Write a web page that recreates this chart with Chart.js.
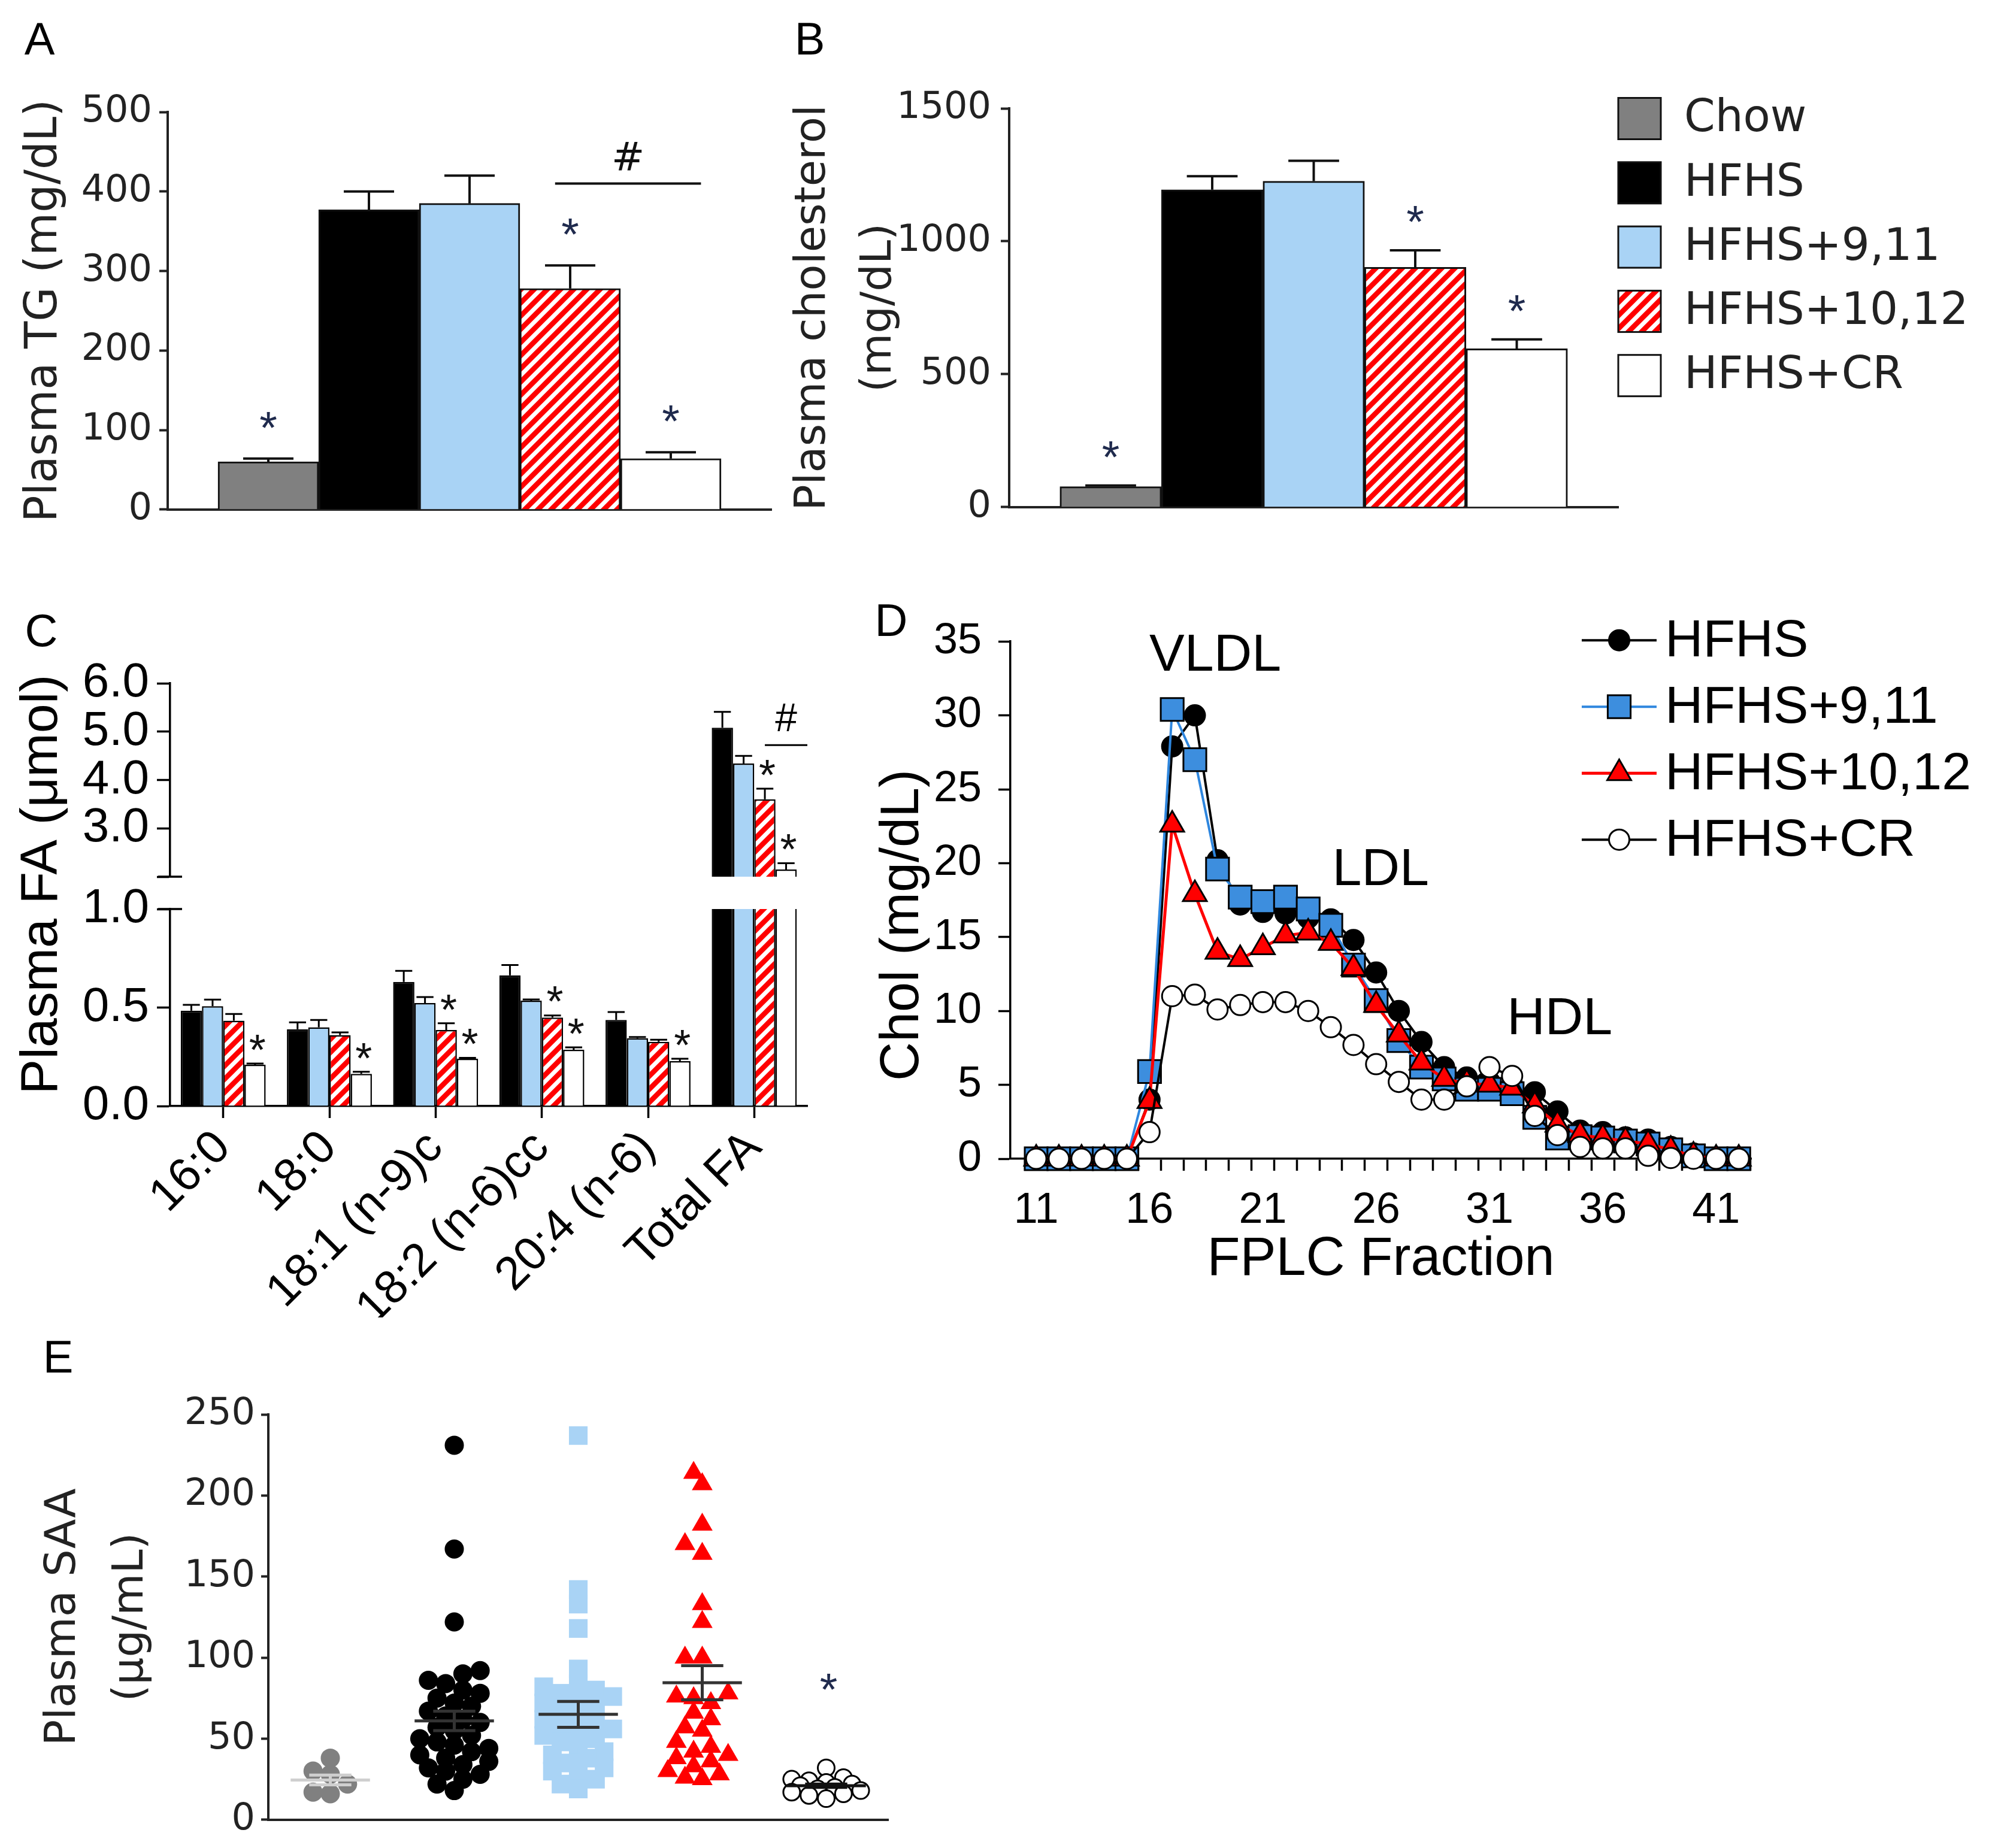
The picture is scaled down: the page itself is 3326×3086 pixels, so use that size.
<!DOCTYPE html>
<html>
<head>
<meta charset="utf-8">
<title>Plasma lipids, fatty acids, FPLC and SAA</title>
<script src="https://cdn.jsdelivr.net/npm/chart.js@4.4.1/dist/chart.umd.min.js"></script>
<style>
  html, body { margin: 0; padding: 0; background: #fff; }
  #figure { position: relative; width: 3326px; height: 3086px; background: #fff; }
  #figure canvas { position: absolute; }
</style>
</head>
<body>
<div id="figure">
  <canvas id="chartA" width="1310" height="900" style="left:0;top:0;width:1310px;height:900px"></canvas>
  <canvas id="chartB" width="2066" height="900" style="left:1260px;top:0;width:2066px;height:900px"></canvas>
  <canvas id="chartCLow" width="1400" height="1200" style="left:0;top:1000px;width:1400px;height:1200px"></canvas>
  <canvas id="chartCUp" width="1400" height="540" style="left:0;top:1000px;width:1400px;height:540px;z-index:2"></canvas>
  <canvas id="chartD" width="1926" height="1200" style="left:1400px;top:1000px;width:1926px;height:1200px"></canvas>
  <canvas id="chartE" width="1520" height="866" style="left:0;top:2220px;width:1520px;height:866px"></canvas>
</div>
<script>
'use strict';

// ********** DATA **********

const groups = ['Chow', 'HFHS', 'HFHS+9,11', 'HFHS+10,12', 'HFHS+CR'];

// A: plasma TG (mg/dL), mean and SEM
const tgMean = [60, 377, 385, 278, 64];
const tgSem = [4, 23, 35, 29, 8];
const tgTicks = [0, 100, 200, 300, 400, 500];

// B: plasma cholesterol (mg/dL)
const cholMean = [77, 1194, 1226, 902, 596];
const cholSem = [4, 51, 77, 64, 35];
const cholTicks = [0, 500, 1000, 1500];

// C: plasma fatty acids (umol), no chow group
const faLabels = ['16:0', '18:0', '18:1 (n-9)c', '18:2 (n-6)cc', '20:4 (n-6)', 'Total FA'];
const faHFHS = [0.484, 0.39, 0.63, 0.663, 0.437, 5.08];
const faHFHSSem = [0.03, 0.035, 0.056, 0.053, 0.04, 0.33];
const fa911 = [0.507, 0.40, 0.523, 0.535, 0.344, 4.34];
const fa911Sem = [0.033, 0.037, 0.03, 0.006, 0.006, 0.16];
const fa1012 = [0.433, 0.36, 0.386, 0.449, 0.326, 3.6];
const fa1012Sem = [0.034, 0.014, 0.034, 0.011, 0.011, 0.22];
const faCR = [0.21, 0.163, 0.24, 0.286, 0.228, 2.15];
const faCRSem = [0.006, 0.011, 0.005, 0.012, 0.012, 0.13];
const faLowTicks = [0, 0.5, 1.0];
const faHighTicks = [2, 3, 4, 5, 6];   // 2 is the break, no label

// D: FPLC cholesterol profile (mg/dL)
const fractions = [11, 12, 13, 14, 15, 16, 17, 18, 19, 20, 21, 22, 23, 24, 25, 26,
  27, 28, 29, 30, 31, 32, 33, 34, 35, 36, 37, 38, 39, 40, 41, 42];
const dHFHS = [0, 0, 0, 0, 0, 4.0, 27.9, 30.0, 20.2, 17.2, 16.7, 16.6, 16.3, 16.2, 14.8, 12.6,
  10.0, 7.9, 6.2, 5.5, 5.2, 5.0, 4.5, 3.2, 1.9, 1.8, 1.45, 1.3, 0.8, 0.35, 0, 0];
const d911 = [0, 0, 0, 0, 0, 5.9, 30.4, 27.0, 19.6, 17.7, 17.4, 17.7, 16.9, 15.8, 13.1, 10.7,
  8.0, 6.2, 5.4, 4.7, 4.7, 4.4, 2.8, 1.4, 1.5, 1.4, 1.2, 1.0, 0.6, 0.2, 0, 0];
const d1012 = [0, 0, 0, 0, 0, 3.9, 22.6, 17.9, 14.0, 13.5, 14.3, 15.1, 15.3, 14.6, 12.9, 10.4,
  8.4, 6.5, 5.4, 5.1, 5.0, 4.8, 3.6, 2.3, 1.6, 1.4, 1.2, 1.0, 0.6, 0.2, 0, 0];
const dCR = [0, 0, 0, 0, 0, 1.8, 11.0, 11.1, 10.1, 10.4, 10.6, 10.6, 10.0, 8.9, 7.7, 6.4,
  5.2, 4.0, 4.0, 4.9, 6.2, 5.6, 2.9, 1.6, 0.8, 0.7, 0.7, 0.2, 0.05, 0, 0, 0];
const fracLabels = [11, 16, 21, 26, 31, 36, 41];
const dTicksY = [0, 5, 10, 15, 20, 25, 30, 35];

// E: plasma SAA (ug/mL), individual mice
const saaChow = [38, 30, 28, 22, 17, 16];
const saaHFHS = [231, 167, 122, 92, 90, 86, 84, 80, 78, 75, 72, 70, 67, 64, 62, 60, 57,
  55, 52, 50, 48, 46, 44, 42, 40, 38, 36, 34, 32, 30, 28, 25, 22, 18];
const saa911 = [237, 142, 133, 118, 93, 84, 82, 80, 78, 76, 74, 72, 70, 68, 65, 62, 60,
  58, 56, 54, 52, 50, 48, 45, 42, 40, 38, 35, 32, 30, 28, 25, 22, 19];
const saa1012 = [214, 207, 182, 170, 164, 133, 122, 100, 100, 78, 76, 75, 72, 66, 62, 57,
  55, 48, 45, 42, 40, 38, 36, 33, 30, 28, 26, 25];
const saaCR = [32, 26, 25, 24, 23, 22, 21, 20, 19, 18, 17, 16, 15, 13];
const saaMean = [24.5, 61, 65, 84.5, 21];
const saaSem = [3, 6, 8, 10.5, 1];
const saaTicks = [0, 50, 100, 150, 200, 250];


// ********** STYLE **********

const WIDE = 'DejaVu Sans';
const ARIAL = 'Liberation Sans';
const INK = '#222';
const STAR = '#1f2a4d';
const LIGHT_BLUE = '#a9d3f5';
const hatch = makeHatch();
const fills = ['#808080', '#000000', LIGHT_BLUE, hatch, '#ffffff'];
const common = {responsive: false, animation: false, devicePixelRatio: 1, events: []};


// ********** HELPER FUNCTIONS **********

// red bars with white diagonal stripes
function makeHatch() {
  const s = 22;
  const c = document.createElement('canvas');
  c.width = s;
  c.height = s;
  const g = c.getContext('2d');
  g.fillStyle = '#ff0000';
  g.fillRect(0, 0, s, s);
  g.strokeStyle = '#ffffff';
  g.lineWidth = 7;
  g.beginPath();
  g.moveTo(0, s); g.lineTo(s, 0);
  g.moveTo(-s / 2, s / 2); g.lineTo(s / 2, -s / 2);
  g.moveTo(s / 2, s * 1.5); g.lineTo(s * 1.5, s / 2);
  g.stroke();
  return g.createPattern(c, 'repeat');
}

function valueOf(raw) {
  return (raw !== null && typeof raw === 'object') ? raw.y : raw;
}

function fixedTicks(list) {
  return (axis) => { axis.ticks = list.map(v => ({value: v})); };
}
function fixedWidth(w) {
  return (axis) => { axis.width = w; };
}
function fixedHeight(h) {
  return (axis) => { axis.height = h; };
}

function drawStar(ctx, x, y, font, color) {
  ctx.font = `${font.size}px "${font.family}"`;
  ctx.fillStyle = color;
  ctx.textAlign = 'center';
  ctx.textBaseline = 'alphabetic';
  ctx.fillText('*', x, y + font.size * 0.58);
}

// spread close points sideways like a scatter dot plot (overlap allowed once crowded)
function swarm(values, center, marker, maxOff) {
  const pxX = 207, pxY = 2.75;   // approx px per unit on panel E
  const placed = [];
  const pts = values.map(v => ({x: center, y: v}));
  const order = values.map((v, i) => i).sort((a, b) => values[a] - values[b]);
  order.forEach(i => {
    const py = values[i] * pxY;
    let best = 0, bestGap = -1;
    for (let k = 0; k < 40; k++) {
      const off = (k % 2 ? -1 : 1) * Math.ceil(k / 2) * marker * 0.45;
      if (Math.abs(off) > maxOff) break;
      const gap = placed.length ? Math.min(...placed.map(p => Math.hypot(p.x - off, p.y - py))) : Infinity;
      if (gap >= marker * 0.7) { best = off; break; }
      if (gap > bestGap) { bestGap = gap; best = off; }
    }
    placed.push({x: best, y: py});
    pts[i].x = center + best / pxX;
  });
  return pts;
}

function yAxis(ticks, opts) {
  return {
    min: ticks[0],
    max: ticks[ticks.length - 1],
    afterBuildTicks: fixedTicks(ticks),
    afterFit: fixedWidth(opts.width),
    ticks: {font: {family: opts.family, size: opts.size}, color: opts.color, autoSkip: false,
      padding: opts.padding, callback: opts.callback},
    grid: {display: true, drawOnChartArea: false, drawTicks: true, tickLength: opts.tick,
      tickWidth: opts.line, tickColor: opts.color},
    border: {display: true, color: opts.color, width: opts.line},
    title: opts.title || {display: false}
  };
}


// ********** PLUGINS **********

function textLayer(items) {
  return {
    id: 'textLayer',
    afterDraw(chart) {
      const ctx = chart.ctx;
      items.forEach(t => {
        ctx.save();
        ctx.translate(t.x, t.y);
        ctx.rotate((t.rotation || 0) * Math.PI / 180);
        ctx.font = t.font;
        ctx.fillStyle = t.color || '#000';
        ctx.textAlign = 'center';
        ctx.textBaseline = 'middle';
        ctx.fillText(t.text, 0, 0);
        ctx.restore();
      });
    }
  };
}

function errorBars(style) {
  return {
    id: 'errorBars',
    afterDatasetsDraw(chart) {
      const {ctx, chartArea} = chart;
      ctx.save();
      ctx.beginPath();
      ctx.rect(chartArea.left, chartArea.top - 3, chartArea.right - chartArea.left,
        chartArea.bottom - chartArea.top + 3);
      ctx.clip();
      ctx.strokeStyle = style.color;
      ctx.lineWidth = style.width;
      chart.data.datasets.forEach((ds, i) => {
        if (!ds.errors) return;
        const meta = chart.getDatasetMeta(i);
        const yScale = chart.scales[meta.yAxisID];
        meta.data.forEach((bar, j) => {
          const v = valueOf(ds.data[j]);
          const e = ds.errors[j];
          if (v === null || v === undefined || e === null || e === undefined) return;
          const yTop = yScale.getPixelForValue(v + e);
          const half = bar.width * style.cap / 2;
          ctx.beginPath();
          ctx.moveTo(bar.x, bar.y);
          ctx.lineTo(bar.x, yTop);
          ctx.moveTo(bar.x - half, yTop);
          ctx.lineTo(bar.x + half, yTop);
          ctx.stroke();
        });
      });
      ctx.restore();
    }
  };
}

// significance stars over bars and a # bar between two bars
function barMarks(cfg) {
  return {
    id: 'barMarks',
    afterDatasetsDraw(chart) {
      const {ctx, chartArea} = chart;
      ctx.save();
      (cfg.stars || []).forEach(s => {
        const meta = chart.getDatasetMeta(s.ds);
        const bar = meta.data[s.idx];
        const ds = chart.data.datasets[s.ds];
        const yScale = chart.scales[meta.yAxisID];
        const y = yScale.getPixelForValue(valueOf(ds.data[s.idx]) + ds.errors[s.idx]) - cfg.lift;
        if (y < chartArea.top - 30 || y > chartArea.bottom) return;
        drawStar(ctx, bar.x + (cfg.dx || 0), y, cfg.font, cfg.color);
      });
      if (cfg.sig) {
        const s = cfg.sig;
        const a = chart.getDatasetMeta(s.from.ds).data[s.from.idx];
        const b = chart.getDatasetMeta(s.to.ds).data[s.to.idx];
        const x1 = a.x + s.from.dx * a.width;
        const x2 = b.x + s.to.dx * b.width;
        const y = chart.scales.y.getPixelForValue(s.y);
        ctx.strokeStyle = s.color;
        ctx.lineWidth = s.width;
        ctx.beginPath();
        ctx.moveTo(x1, y);
        ctx.lineTo(x2, y);
        ctx.stroke();
        ctx.font = `${s.size}px "${s.family}"`;
        ctx.fillStyle = s.color;
        ctx.textAlign = 'center';
        ctx.textBaseline = 'middle';
        ctx.fillText('#', (x1 + x2) / 2, y - s.lift);
      }
      ctx.restore();
    }
  };
}

// short cross tick where the broken y axis stops ('top' or 'bottom' of the plot)
function breakTick(edge, half, width) {
  return {
    id: 'breakTick',
    afterDraw(chart) {
      const {ctx, chartArea} = chart;
      const y = edge === 'top' ? chartArea.top : chartArea.bottom;
      ctx.save();
      ctx.strokeStyle = '#000';
      ctx.lineWidth = width;
      ctx.beginPath();
      ctx.moveTo(chartArea.left - half, y);
      ctx.lineTo(chartArea.left + half, y);
      ctx.stroke();
      ctx.restore();
    }
  };
}

// filled boxes with group names to the right of the plot
function boxLegend(cfg) {
  return {
    id: 'boxLegend',
    afterDraw(chart) {
      const {ctx, chartArea} = chart;
      ctx.save();
      ctx.font = `${cfg.size}px "${cfg.family}"`;
      ctx.textBaseline = 'middle';
      ctx.textAlign = 'left';
      cfg.labels.forEach((label, i) => {
        const y = chartArea.top + cfg.top + i * cfg.spacing;
        const x = chartArea.right + cfg.left;
        ctx.fillStyle = cfg.fills[i];
        ctx.fillRect(x, y - cfg.boxH / 2, cfg.boxW, cfg.boxH);
        ctx.strokeStyle = '#111';
        ctx.lineWidth = 3;
        ctx.strokeRect(x, y - cfg.boxH / 2, cfg.boxW, cfg.boxH);
        ctx.fillStyle = cfg.color;
        ctx.fillText(label, x + cfg.boxW + cfg.gap, y + 2);
      });
      ctx.restore();
    }
  };
}

// line + marker legend for the FPLC panel
function lineLegend(cfg) {
  return {
    id: 'lineLegend',
    afterDraw(chart) {
      const {ctx, chartArea} = chart;
      ctx.save();
      chart.data.datasets.forEach((ds, i) => {
        const y = chartArea.top + cfg.top + i * cfg.spacing;
        const x0 = chartArea.right + cfg.left;
        ctx.strokeStyle = ds.borderColor;
        ctx.lineWidth = ds.borderWidth;
        ctx.beginPath();
        ctx.moveTo(x0, y);
        ctx.lineTo(x0 + cfg.lineLen, y);
        ctx.stroke();
        ctx.fillStyle = ds.pointBackgroundColor;
        ctx.strokeStyle = ds.pointBorderColor;
        ctx.lineWidth = ds.pointBorderWidth;
        Chart.helpers.drawPoint(ctx, {pointStyle: ds.pointStyle, radius: ds.pointRadius,
          rotation: 0, borderWidth: ds.pointBorderWidth}, x0 + cfg.lineLen / 2, y);
        ctx.font = `${cfg.size}px "${cfg.family}"`;
        ctx.fillStyle = '#000';
        ctx.textAlign = 'left';
        ctx.textBaseline = 'middle';
        ctx.fillText(ds.label, x0 + cfg.lineLen + cfg.gap, y + 3);
      });
      ctx.restore();
    }
  };
}

// text placed at data coordinates
function dataLabels(items, font) {
  return {
    id: 'dataLabels',
    afterDraw(chart) {
      const ctx = chart.ctx;
      ctx.save();
      ctx.font = font;
      ctx.fillStyle = '#000';
      ctx.textAlign = 'center';
      ctx.textBaseline = 'middle';
      items.forEach(t => {
        ctx.fillText(t.text, chart.scales.x.getPixelForValue(t.x), chart.scales.y.getPixelForValue(t.y));
      });
      ctx.restore();
    }
  };
}

// mean +/- SEM lines over the scatter columns
function meanSem(cfg) {
  return {
    id: 'meanSem',
    afterDatasetsDraw(chart) {
      const ctx = chart.ctx;
      const xs = chart.scales.x, ys = chart.scales.y;
      ctx.save();
      ctx.lineWidth = cfg.width;
      cfg.means.forEach((m, i) => {
        const g = i + 1;
        const cx = xs.getPixelForValue(g);
        const mw = xs.getPixelForValue(g + cfg.meanHalf) - cx;
        const cw = xs.getPixelForValue(g + cfg.capHalf) - cx;
        const ym = ys.getPixelForValue(m);
        const yt = ys.getPixelForValue(m + cfg.sems[i]);
        const yb = ys.getPixelForValue(m - cfg.sems[i]);
        ctx.strokeStyle = cfg.colors[i];
        ctx.beginPath();
        ctx.moveTo(cx - mw, ym); ctx.lineTo(cx + mw, ym);
        ctx.moveTo(cx, yt); ctx.lineTo(cx, yb);
        ctx.moveTo(cx - cw, yt); ctx.lineTo(cx + cw, yt);
        ctx.moveTo(cx - cw, yb); ctx.lineTo(cx + cw, yb);
        ctx.stroke();
      });
      cfg.stars.forEach(s => {
        drawStar(ctx, xs.getPixelForValue(s.x), ys.getPixelForValue(s.y), cfg.starFont, STAR);
      });
      ctx.restore();
    }
  };
}


// ********** PANELS **********

// one empty slot each side of the five bars, so the axis runs past them
const barSlots = [''].concat(groups, ['']);

function groupBars(label, means, sems) {
  return [{
    label: label,
    data: [null].concat(means, [null]),
    errors: [null].concat(sems, [null]),
    backgroundColor: ['rgba(0,0,0,0)'].concat(fills, ['rgba(0,0,0,0)']),
    borderColor: '#111',
    borderWidth: 3,
    barPercentage: 1,
    categoryPercentage: 1
  }];
}

function slotX(height) {
  return {
    type: 'category',
    offset: false,
    afterFit: fixedHeight(height),
    ticks: {display: false},
    grid: {display: false, offset: false},
    border: {display: true, color: INK, width: 4}
  };
}

function panelA() {
  new Chart(document.getElementById('chartA'), {
    type: 'bar',
    data: {labels: barSlots, datasets: groupBars('Plasma TG', tgMean, tgSem)},
    options: {
      ...common,
      layout: {padding: {left: 0, top: 187, right: 22, bottom: 0}},
      scales: {
        x: slotX(45),
        y: yAxis(tgTicks, {width: 280, family: WIDE, size: 62, color: INK, padding: 12, tick: 14, line: 4,
          title: {display: true, text: 'Plasma TG (mg/dL)', color: INK,
            font: {family: WIDE, size: 74, lineHeight: 1.2}, padding: {top: 30, bottom: 0}}})
      },
      plugins: {legend: {display: false}, tooltip: {enabled: false}}
    },
    plugins: [
      errorBars({color: '#111', width: 4, cap: 0.5}),
      barMarks({stars: [{ds: 0, idx: 1}, {ds: 0, idx: 4}, {ds: 0, idx: 5}], lift: 70,
        font: {family: ARIAL, size: 76}, color: STAR,
        sig: {y: 410, from: {ds: 0, idx: 4, dx: -0.15}, to: {ds: 0, idx: 5, dx: 0.3},
          color: '#111', width: 4, size: 66, family: WIDE, lift: 40}}),
      textLayer([{text: 'A', x: 66, y: 70, font: `76px "${ARIAL}"`}])
    ]
  });
}

function panelB() {
  new Chart(document.getElementById('chartB'), {
    type: 'bar',
    data: {labels: barSlots, datasets: groupBars('Plasma cholesterol', cholMean, cholSem)},
    options: {
      ...common,
      layout: {padding: {left: 0, top: 181, right: 624, bottom: 0}},
      scales: {
        x: slotX(46),
        y: yAxis(cholTicks, {width: 425, family: WIDE, size: 62, color: INK, padding: 16, tick: 14, line: 4,
          title: {display: true, text: ['Plasma cholesterol', '(mg/dL)'], color: INK,
            font: {family: WIDE, size: 72, lineHeight: 1.53}, padding: {top: 43, bottom: 0}}})
      },
      plugins: {legend: {display: false}, tooltip: {enabled: false}}
    },
    plugins: [
      errorBars({color: '#111', width: 4, cap: 0.5}),
      barMarks({stars: [{ds: 0, idx: 1}, {ds: 0, idx: 4}, {ds: 0, idx: 5}], lift: 66,
        font: {family: ARIAL, size: 76}, color: STAR}),
      boxLegend({labels: groups, fills: fills, top: 17, spacing: 107.3, left: 0, boxW: 71, boxH: 69,
        gap: 39, family: WIDE, size: 74, color: INK}),
      textLayer([{text: 'B', x: 92, y: 70, font: `76px "${ARIAL}"`}])
    ]
  });
}

function faDatasets() {
  const series = [faHFHS, fa911, fa1012, faCR];
  const errs = [faHFHSSem, fa911Sem, fa1012Sem, faCRSem];
  const colors = ['#000000', LIGHT_BLUE, hatch, '#ffffff'];
  return ['HFHS', 'HFHS+9,11', 'HFHS+10,12', 'HFHS+CR'].map((g, i) => ({
    label: g,
    data: series[i],
    errors: errs[i],
    backgroundColor: colors[i],
    borderColor: '#000',
    borderWidth: 2.5
  }));
}

const faStars = [{ds: 3, idx: 0}, {ds: 3, idx: 1}, {ds: 2, idx: 2}, {ds: 3, idx: 2},
  {ds: 2, idx: 3}, {ds: 3, idx: 3}, {ds: 3, idx: 4}, {ds: 2, idx: 5}, {ds: 3, idx: 5}];

function panelC() {
  const axisOpts = {width: 284, family: ARIAL, size: 80, color: '#000', padding: 13, tick: 22, line: 3.5};
  const barOpts = {bar: {barPercentage: 1, categoryPercentage: 0.8}};

  // lower segment 0 - 1.0, carries the category labels
  new Chart(document.getElementById('chartCLow'), {
    type: 'bar',
    data: {labels: faLabels, datasets: faDatasets()},
    options: {
      ...common,
      layout: {padding: {left: 0, top: 518, right: 52, bottom: 0}},
      datasets: barOpts,
      scales: {
        x: {
          type: 'category',
          afterFit: fixedHeight(353),
          ticks: {font: {family: ARIAL, size: 78}, color: '#000', maxRotation: 45, minRotation: 45,
            autoSkip: false, padding: 4},
          grid: {display: true, drawOnChartArea: false, offset: false, tickLength: 20, tickWidth: 3.5,
            tickColor: '#000'},
          border: {display: true, color: '#000', width: 3.5}
        },
        y: yAxis(faLowTicks, {...axisOpts, callback: (v) => Number(v).toFixed(1)})
      },
      plugins: {legend: {display: false}, tooltip: {enabled: false}}
    },
    plugins: [
      errorBars({color: '#000', width: 3, cap: 0.8}),
      barMarks({stars: faStars, lift: 40, dx: 4, font: {family: ARIAL, size: 72}, color: '#111'}),
      breakTick('top', 20, 3.5),
      textLayer([
        {text: 'C', x: 69, y: 58, font: `76px "${ARIAL}"`},
        {text: 'Plasma FA (\u03bcmol)', x: 71, y: 477, rotation: -90, font: `88px "${ARIAL}"`}
      ])
    ]
  });

  // upper segment 2.0 - 6.0 above the axis break
  new Chart(document.getElementById('chartCUp'), {
    type: 'bar',
    data: {labels: faLabels, datasets: faDatasets()},
    options: {
      ...common,
      layout: {padding: {left: 0, top: 141, right: 52, bottom: 0}},
      datasets: barOpts,
      scales: {
        x: {type: 'category', afterFit: fixedHeight(76), ticks: {display: false},
          grid: {display: false}, border: {display: false}},
        y: yAxis(faHighTicks, {...axisOpts,
          callback: (v) => (v === faHighTicks[0] ? '' : Number(v).toFixed(1))})
      },
      plugins: {legend: {display: false}, tooltip: {enabled: false}}
    },
    plugins: [
      errorBars({color: '#000', width: 3, cap: 0.8}),
      barMarks({stars: faStars, lift: 40, dx: 4, font: {family: ARIAL, size: 72}, color: '#111',
        sig: {y: 4.72, from: {ds: 2, idx: 5, dx: 0}, to: {ds: 3, idx: 5, dx: 1.0},
          color: '#000', width: 3, size: 66, family: ARIAL, lift: 42}}),
      breakTick('bottom', 20, 3.5)
    ]
  });
}

function panelD() {
  const pts = (arr) => fractions.map((f, i) => ({x: f, y: arr[i]}));
  const halfTicks = fractions.map(f => f - 0.5).concat([fractions[fractions.length - 1] + 0.5]);
  const xTicks = halfTicks.concat(fracLabels).sort((a, b) => a - b);
  const line = {clip: false, tension: 0, pointBorderColor: '#000', pointBorderWidth: 3};

  new Chart(document.getElementById('chartD'), {
    type: 'line',
    data: {
      datasets: [
        {...line, label: 'HFHS', data: pts(dHFHS), borderColor: '#000', borderWidth: 4,
          pointStyle: 'circle', pointRadius: 17, pointBackgroundColor: '#000', order: 4},
        {...line, label: 'HFHS+9,11', data: pts(d911), borderColor: '#2e86de', borderWidth: 4,
          pointStyle: 'rect', pointRadius: 27, pointBackgroundColor: '#3d8ede', order: 3},
        {...line, label: 'HFHS+10,12', data: pts(d1012), borderColor: '#ff0000', borderWidth: 5,
          pointStyle: 'triangle', pointRadius: 23, pointBackgroundColor: '#ff0000', order: 2},
        {...line, label: 'HFHS+CR', data: pts(dCR), borderColor: '#000', borderWidth: 4,
          pointStyle: 'circle', pointRadius: 17, pointBackgroundColor: '#fff', order: 1}
      ]
    },
    options: {
      ...common,
      layout: {padding: {left: 0, top: 47, right: 402, bottom: 0}},
      scales: {
        x: {
          type: 'linear', min: 9.86, max: 42.55,
          afterBuildTicks: fixedTicks(xTicks),
          afterFit: fixedHeight(265),
          ticks: {font: {family: ARIAL, size: 72}, color: '#000', autoSkip: false, maxRotation: 0,
            padding: 24, callback: (v) => (fracLabels.includes(v) ? String(v) : '')},
          grid: {display: true, drawOnChartArea: false, tickLength: 20, tickWidth: 3.5,
            tickColor: (c) => (c.tick && fracLabels.includes(c.tick.value) ? 'rgba(0,0,0,0)' : '#000')},
          border: {display: true, color: '#000', width: 3.5},
          title: {display: true, text: 'FPLC Fraction', color: '#000',
            font: {family: ARIAL, size: 90, lineHeight: 1.2}, padding: {top: 0, bottom: 42}}
        },
        y: yAxis(dTicksY, {width: 287, family: ARIAL, size: 72, color: '#000', padding: 28, tick: 20, line: 3.5})
      },
      plugins: {legend: {display: false}, tooltip: {enabled: false}}
    },
    plugins: [
      lineLegend({top: -2, spacing: 111, left: -283, lineLen: 125, gap: 14, family: ARIAL, size: 88}),
      dataLabels([{text: 'VLDL', x: 18.9, y: 34.0}, {text: 'LDL', x: 26.2, y: 19.5},
        {text: 'HDL', x: 34.1, y: 9.4}], `88px "${ARIAL}"`),
      textLayer([
        {text: 'D', x: 88, y: 41, font: `76px "${ARIAL}"`},
        {text: 'Chol (mg/dL)', x: 108, y: 545, rotation: -90, font: `90px "${ARIAL}"`}
      ])
    ]
  });
}

function panelE() {
  const sets = [saaChow, saaHFHS, saa911, saa1012, saaCR];
  const looks = [
    {pointStyle: 'circle', pointRadius: 16, pointBackgroundColor: '#808080', pointBorderColor: '#808080', pointBorderWidth: 0},
    {pointStyle: 'circle', pointRadius: 16, pointBackgroundColor: '#000', pointBorderColor: '#000', pointBorderWidth: 0},
    {pointStyle: 'rect', pointRadius: 22, pointBackgroundColor: LIGHT_BLUE, pointBorderColor: LIGHT_BLUE, pointBorderWidth: 0},
    {pointStyle: 'triangle', pointRadius: 20, pointBackgroundColor: '#ff0000', pointBorderColor: '#ff0000', pointBorderWidth: 0},
    {pointStyle: 'circle', pointRadius: 14, pointBackgroundColor: '#fff', pointBorderColor: '#000', pointBorderWidth: 3}
  ];
  const datasets = sets.map((vals, i) => ({
    label: groups[i],
    data: swarm(vals, i + 1, 32, 64),
    clip: false,
    ...looks[i]
  }));

  new Chart(document.getElementById('chartE'), {
    type: 'scatter',
    data: {datasets},
    options: {
      ...common,
      layout: {padding: {left: 0, top: 142, right: 37, bottom: 0}},
      scales: {
        x: {type: 'linear', min: 0.5, max: 5.5,
          afterBuildTicks: (axis) => { axis.ticks = [{value: 0.5}, {value: 5.5}]; },
          afterFit: fixedHeight(36), ticks: {display: false}, grid: {display: false},
          border: {display: true, color: INK, width: 4}},
        y: yAxis(saaTicks, {width: 448, family: WIDE, size: 62, color: INK, padding: 10, tick: 12, line: 4,
          title: {display: true, text: ['Plasma SAA', '(\u03bcg/mL)'], color: INK,
            font: {family: WIDE, size: 72, lineHeight: 1.57}, padding: {top: 50, bottom: 0}}})
      },
      plugins: {legend: {display: false}, tooltip: {enabled: false}}
    },
    plugins: [
      meanSem({means: saaMean, sems: saaSem, meanHalf: 0.32, capHalf: 0.17, width: 5,
        colors: ['#cfcfcf', '#333', '#333', '#333', '#111'],
        stars: [{x: 5.02, y: 87}], starFont: {family: ARIAL, size: 76}}),
      textLayer([{text: 'E', x: 97, y: 51, font: `76px "${ARIAL}"`}])
    ]
  });
}


// ********** EXECUTABLE **********
Chart.defaults.color = INK;
panelA();
panelB();
panelC();
panelD();
panelE();
</script>
</body>
</html>
